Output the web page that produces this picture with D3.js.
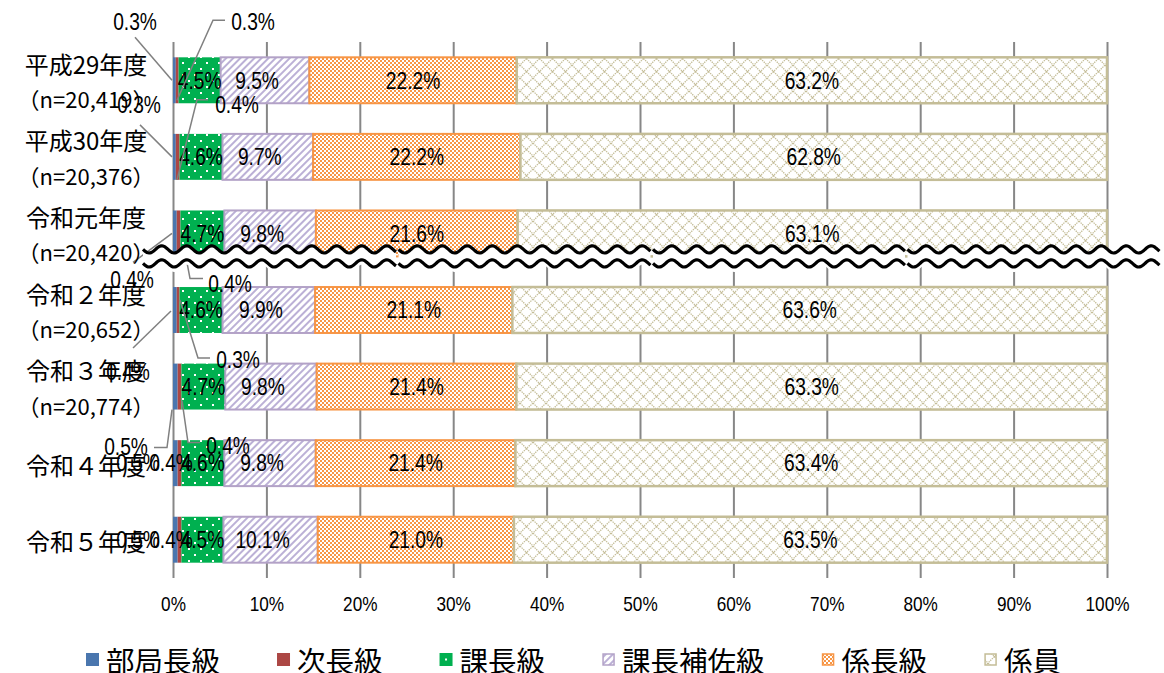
<!DOCTYPE html>
<html><head><meta charset="utf-8">
<script src="https://cdn.jsdelivr.net/npm/d3@7/dist/d3.min.js"></script>
<style>
body{margin:0;background:#fff;}
svg{display:block;}
</style></head><body>
<svg id="chart" width="1164" height="673"></svg>
<script>
// ---------- data ----------
const categories = ["平成29年度","平成30年度","令和元年度","令和２年度","令和３年度","令和４年度","令和５年度"];
const sampleSizes = ["（n=20,419）","（n=20,376）","（n=20,420）","（n=20,652）","（n=20,774）", null, null];
const seriesNames = ["部局長級","次長級","課長級","課長補佐級","係長級","係員"];
const bukyokuchoValues = [0.3, 0.3, 0.4, 0.4, 0.5, 0.5, 0.5];
const jichoValues      = [0.3, 0.4, 0.4, 0.3, 0.4, 0.4, 0.4];
const kachoValues      = [4.5, 4.6, 4.7, 4.6, 4.7, 4.6, 4.5];
const kachoHosaValues  = [9.5, 9.7, 9.8, 9.9, 9.8, 9.8, 10.1];
const kakarichoValues  = [22.2, 22.2, 21.6, 21.1, 21.4, 21.4, 21.0];
const kakariinValues   = [63.2, 62.8, 63.1, 63.6, 63.3, 63.4, 63.5];
const tickValues = [0,10,20,30,40,50,60,70,80,90,100];
const tickLabels = ["0%","10%","20%","30%","40%","50%","60%","70%","80%","90%","100%"];

const seriesValues = [bukyokuchoValues, jichoValues, kachoValues, kachoHosaValues, kakarichoValues, kakariinValues];
const rows = categories.map((c,i)=>{
  const r = {category:c};
  seriesNames.forEach((s,j)=>{ r[s] = seriesValues[j][i]; });
  return r;
});

// ---------- layout / style ----------
const plot = {left:173, right:1107, top:42, bottom:578};
const colors = ["#4A76AE","#AC4744","#00B050","#B3A2C7","#F79646","#C4BD97"];
const numFont = "'Liberation Sans', Arial, sans-serif";
const jpFont = "'Noto Sans CJK JP', 'Noto Sans', sans-serif";
const labelShift = [0,0,0,-8,0,0];
const labelSize = 24, labelScale = 0.8;
// callout placement for small segments: [row, series, labelDx, labelDy, leader points] relative to (x(0), row centre)
const callouts = [
  [0,0,-38,-59,[[-38,-43],[-1,0]]],
  [0,1, 80,-59,[[52,-60],[40,-60],[4,20]]],
  [1,0,-34,-52,[[-33,-32],[-1,0]]],
  [1,1, 64,-52,[[35,-57],[24,-57],[4,23]]],
  [2,0,-41, 46,[[-40,29],[-1,0]]],
  [2,1, 57, 50,[[30,45],[17,45],[13,24]]],
  [3,0,-45, 62,[[-40,38],[-2,1]]],
  [3,1, 65, 50,[[37,48],[25,48],[7,-10]]],
  [4,0,-47, 60,[[-19,61],[-6,61],[-1,23]]],
  [4,1, 55, 59,[[27,56],[15,56],[9,14]]],
  [5,0,-35, 0,null],[5,1,-2,0,null],
  [6,0,-35, 0,null],[6,1,-2,0,null]
];

const svg = d3.select("#chart");
const defs = svg.append("defs");

function pattern(id,w,h){
  return defs.append("pattern").attr("id",id).attr("patternUnits","userSpaceOnUse").attr("width",w).attr("height",h);
}
let p = pattern("pGreen",12,12);
p.append("rect").attr("width",12).attr("height",12).attr("fill",colors[2]);
p.append("rect").attr("x",2).attr("y",2).attr("width",2).attr("height",2).attr("fill","#fff");
p.append("rect").attr("x",8).attr("y",8).attr("width",2).attr("height",2).attr("fill","#fff");

p = pattern("pPurple",5,5).attr("patternTransform","rotate(45)");
p.append("rect").attr("width",5).attr("height",5).attr("fill","#fff");
p.append("line").attr("x1",1).attr("x2",1).attr("y1",0).attr("y2",5).attr("stroke","#A596C9").attr("stroke-width",1.5);

p = pattern("pOrange",4,4);
p.append("rect").attr("width",4).attr("height",4).attr("fill","#fff");
p.append("rect").attr("width",2).attr("height",2).attr("fill",colors[4]);
p.append("rect").attr("x",2).attr("y",2).attr("width",2).attr("height",2).attr("fill",colors[4]);

p = pattern("pKhaki",13,13);
p.append("rect").attr("width",13).attr("height",13).attr("fill","#fff");
p.append("path").attr("d","M0,0L13,13M13,0L0,13").attr("stroke",colors[5]).attr("stroke-width",1.3)
  .attr("stroke-dasharray","1.4,0.9").attr("fill","none");

const fills = [colors[0], colors[1], "url(#pGreen)", "url(#pPurple)", "url(#pOrange)", "url(#pKhaki)"];
const strokes = [null, null, null, colors[3], colors[4], colors[5]];

const x = d3.scaleLinear().domain([0,1]).range([plot.left, plot.right]);
const y = d3.scaleBand().domain(categories).range([plot.top, plot.bottom]).paddingInner(0.4).paddingOuter(0.2);
const bw = y.bandwidth();

function sText(g, tx, ty, str, size, k, family){
  return g.append("text")
    .attr("transform",`translate(${tx},${ty}) scale(${k},1)`)
    .attr("text-anchor","middle").attr("dominant-baseline","central")
    .attr("font-family",family||numFont).attr("font-size",size).attr("fill","#000").text(str);
}

// grid / axis
const xAxis = d3.axisBottom(x).tickValues(tickValues.map(v=>v/100))
  .tickFormat((d,i)=>tickLabels[i]).tickSize(-(plot.bottom-plot.top)).tickPadding(19);
const gx = svg.append("g").attr("transform",`translate(0,${plot.bottom})`).call(xAxis);
gx.select(".domain").remove();
gx.selectAll(".tick line").attr("stroke","#878787").attr("stroke-width",2);
gx.selectAll(".tick text").attr("font-size",20).attr("font-family",numFont).attr("fill","#000")
  .attr("transform","scale(0.86,1)");

// stacked bars
const stack = d3.stack().keys(seriesNames).offset(d3.stackOffsetExpand);
const layers = stack(rows);
const gBars = svg.append("g");
layers.forEach((layer,si)=>{
  gBars.selectAll(null).data(layer).enter().append("rect")
    .attr("x",d=>x(d[0])).attr("width",d=>x(d[1])-x(d[0]))
    .attr("y",d=>y(d.data.category)).attr("height",bw)
    .attr("fill",fills[si])
    .attr("stroke",strokes[si]||"none").attr("stroke-width",si===5?2.5:2);
});

// in-bar labels
const gLab = svg.append("g");
const fmt = d=>d3.format(".1f")(d)+"%";
layers.forEach((layer,si)=>{
  if(si<2) return;
  layer.forEach((d,ri)=>{
    const cx = (x(d[0])+x(d[1]))/2 + labelShift[si];
    const cy = y(d.data.category)+bw/2;
    sText(gLab, cx, cy, fmt(seriesValues[si][ri]), labelSize, labelScale);
  });
});

// leader lines
const gLead = svg.append("g");
const line = d3.line();
callouts.forEach(c=>{
  if(!c[4]) return;
  const cy = y(categories[c[0]])+bw/2, x0 = x(0);
  gLead.append("path").attr("d", line(c[4].map(pt=>[x0+pt[0], cy+pt[1]])))
    .attr("fill","none").attr("stroke","#808080").attr("stroke-width",1.5);
});

// break band between 令和元年度 and 令和２年度
const gBreak = svg.append("g");
const yB = y(categories[2]) + bw;
const period = 25, amp = 3.6;
const bandStart = 143, bandEnd = 1161, segW = (bandEnd-bandStart)/4;
for(let s=0;s<4;s++){
  const xa = bandStart + s*segW + (s>0?1:0), xb = bandStart + (s+1)*segW - 1;
  const xs = d3.range(xa, xb+0.01, 1);
  const wave = off => xs.map(xx=>[xx, yB+off + amp*Math.sin(2*Math.PI*(xx-xa)/period)]);
  const up = wave(-7), lo = wave(7);
  const area = up.concat(lo.slice().reverse().map(p=>[p[0],p[1]+5]));
  gBreak.append("path").attr("d", line(area)+"Z").attr("fill","#fff");
  gBreak.append("path").attr("d", line(up)).attr("fill","none").attr("stroke","#000").attr("stroke-width",3.2);
  gBreak.append("path").attr("d", line(lo)).attr("fill","none").attr("stroke","#000").attr("stroke-width",3.2);
}

// callout / inline small labels
const gCall = svg.append("g");
callouts.forEach(c=>{
  const cy = y(categories[c[0]])+bw/2, x0 = x(0);
  sText(gCall, x0+c[2], cy+c[3], fmt(seriesValues[c[1]][c[0]]), labelSize, labelScale);
});

// category labels
const gCat = svg.append("g");
const catX = 86;
categories.forEach((c,i)=>{
  const cy = y(c)+bw/2;
  if(sampleSizes[i]){
    sText(gCat, catX, cy-17, c, 24, 1, jpFont);
    sText(gCat, catX, cy+18, sampleSizes[i], 22, 1, jpFont);
  } else {
    sText(gCat, catX, cy+1, c, 24, 1, jpFont);
  }
});

// legend
const gLeg = svg.append("g");
let lx = 86;
const ly = 659;
seriesNames.forEach((s,i)=>{
  const sq = 13;
  const r = gLeg.append("rect").attr("x",lx).attr("y",ly-6).attr("width",sq).attr("height",sq);
  if(i<2){ r.attr("fill",colors[i]); }
  else if(i===2){
    r.attr("fill",colors[2]);
    gLeg.append("rect").attr("x",lx+5.5).attr("y",ly-0.5).attr("width",2).attr("height",2).attr("fill","#fff");
  } else {
    r.attr("fill",fills[i]).attr("stroke",colors[i]).attr("stroke-width",1.5)
     .attr("x",lx+1).attr("y",ly-5).attr("width",sq-2).attr("height",sq-2);
  }
  const t = gLeg.append("text").attr("x",lx+20).attr("y",ly).attr("dominant-baseline","central")
    .attr("font-family",jpFont).attr("font-size",28.5).attr("fill","#000").text(s);
  lx = lx + 20 + t.node().getComputedTextLength() + 57;
});
</script>
</body></html>
